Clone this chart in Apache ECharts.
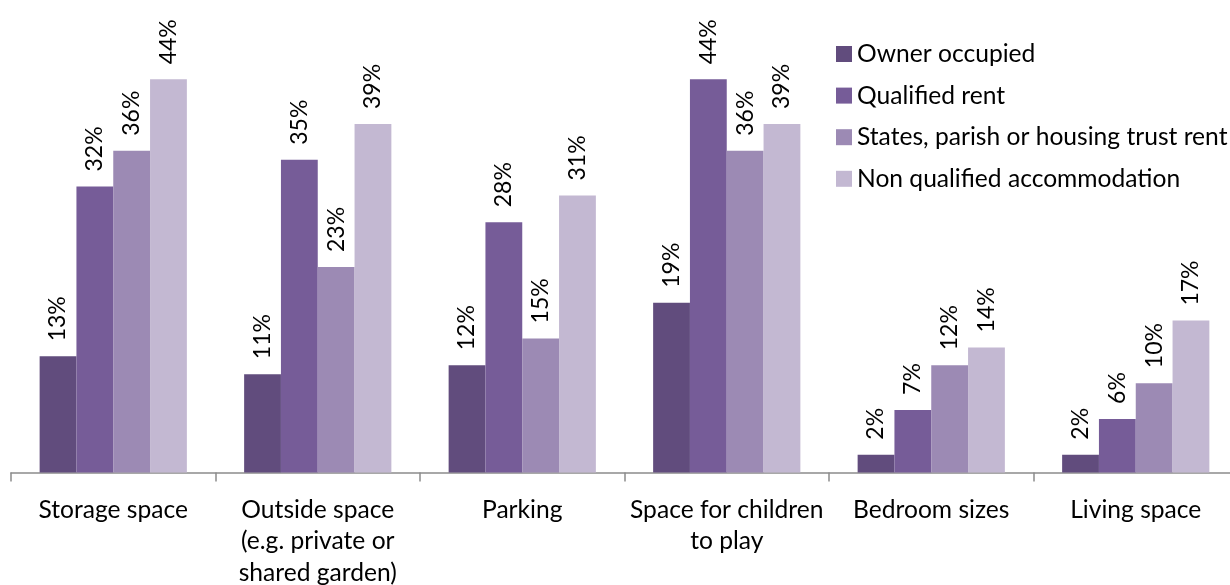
<!DOCTYPE html>
<html>
<head>
<meta charset="utf-8">
<style>
  html, body { margin: 0; padding: 0; background: #ffffff; }
  #chart { width: 1230px; height: 585px; }
</style>
<script src="https://cdn.jsdelivr.net/npm/echarts@6/dist/echarts.min.js"></script>
</head>
<body>
<div id="chart"></div>
<script>
// Share of respondents naming each space issue, by tenure type (%)
const categories = [
  'Storage space',
  'Outside space\n(e.g. private or\nshared garden)',
  'Parking',
  'Space for children\nto play',
  'Bedroom sizes',
  'Living space'
];
const seriesNames = [
  'Owner occupied',
  'Qualified rent',
  'States, parish or housing trust rent',
  'Non qualified accommodation'
];
const ownerOccupied   = [13, 11, 12, 19, 2, 2];
const qualifiedRent   = [32, 35, 28, 44, 7, 6];
const statesRent      = [36, 23, 15, 36, 12, 10];
const nonQualified    = [44, 39, 31, 39, 14, 17];

const colors = ['#614c7d', '#765c98', '#9c8ab4', '#c3b8d2'];
const FONT = 'Lato, "Noto Sans", sans-serif';

const chart = echarts.init(document.getElementById('chart'), null, { renderer: 'canvas' });

function barSeries(name, data, color) {
  return {
    name: name,
    type: 'bar',
    data: data,
    barGap: '0%',
    barCategoryGap: '28%',
    itemStyle: { color: color },
    label: {
      show: true,
      position: 'top',
      rotate: 90,
      align: 'left',
      verticalAlign: 'middle',
      distance: 15,
      formatter: '{c}%',
      fontFamily: FONT,
      fontSize: 23,
      color: '#000000'
    },
    emphasis: { disabled: true }
  };
}

chart.setOption({
  animation: false,
  color: colors,
  // the plot runs a little past the right edge of the canvas
  grid: { left: 11, right: -8, top: 25.7, bottom: 112.5, containLabel: false, outerBoundsMode: 'none' },
  legend: {
    orient: 'vertical',
    left: 836,
    top: 41,
    padding: 0,
    itemWidth: 16,
    itemHeight: 16,
    itemGap: 15.6,
    icon: 'rect',
    textStyle: { fontFamily: FONT, fontSize: 24.6, color: '#000000', lineHeight: 26 },
    data: seriesNames
  },
  xAxis: {
    type: 'category',
    data: categories,
    axisLine: { lineStyle: { color: '#8c8c8c', width: 1.5 } },
    axisTick: { show: true, length: 9, lineStyle: { color: '#8c8c8c', width: 1.5 } },
    axisLabel: {
      interval: 0,
      margin: 21.5,
      fontFamily: FONT,
      fontSize: 24.6,
      lineHeight: 31.7,
      color: '#000000'
    }
  },
  yAxis: {
    type: 'value',
    min: 0,
    max: 50,
    show: false,
    splitLine: { show: false }
  },
  series: [
    barSeries(seriesNames[0], ownerOccupied, colors[0]),
    barSeries(seriesNames[1], qualifiedRent, colors[1]),
    barSeries(seriesNames[2], statesRent, colors[2]),
    barSeries(seriesNames[3], nonQualified, colors[3])
  ]
});
</script>
</body>
</html>
